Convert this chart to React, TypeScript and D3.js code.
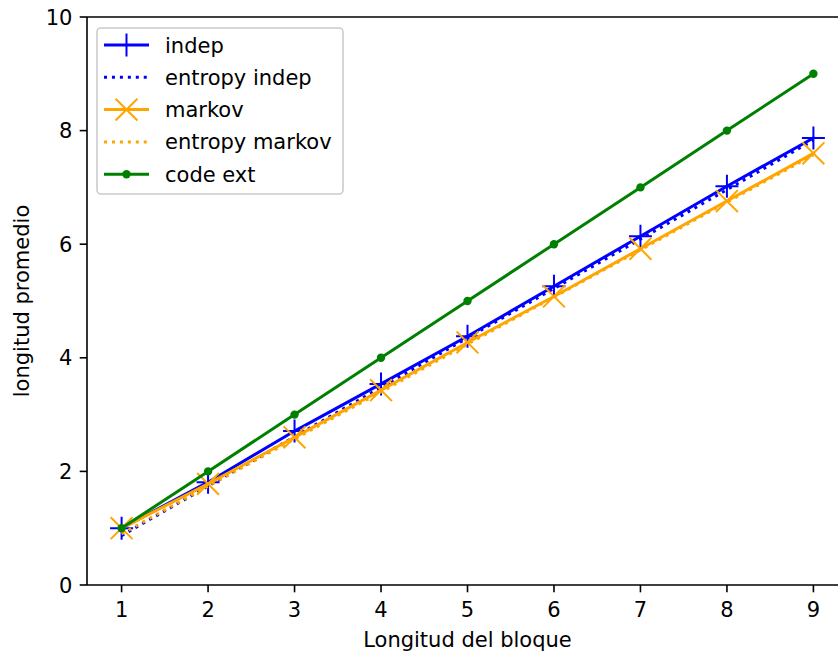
import React from "react";
import * as d3 from "d3";

const blockLengths = [1, 2, 3, 4, 5, 6, 7, 8, 9];
const indep = [1.0, 1.81, 2.71, 3.54, 4.38, 5.26, 6.14, 7.02, 7.87];
const entropyIndep = [0.87, 1.74, 2.61, 3.48, 4.35, 5.22, 6.09, 6.96, 7.83];
const markov = [1.0, 1.78, 2.6, 3.43, 4.27, 5.08, 5.92, 6.76, 7.6];
const entropyMarkov = [0.9, 1.74, 2.57, 3.4, 4.24, 5.07, 5.9, 6.74, 7.57];
const codeExt = [1, 2, 3, 4, 5, 6, 7, 8, 9];
const xTicks = [1, 2, 3, 4, 5, 6, 7, 8, 9];
const yTicks = [0, 2, 4, 6, 8, 10];

const W = 838;
const H = 654;
const left = 87;
const right = 848;
const top = 17;
const bottom = 585;
const FS = 21;
const LW = 3.0;
const FONT = "DejaVu Sans, sans-serif";

type Series = {
  name: string;
  values: number[];
  color: string;
  dotted: boolean;
  marker: "plus" | "x" | "dot" | null;
};

const series: Series[] = [
  { name: "indep", values: indep, color: "#0000ff", dotted: false, marker: "plus" },
  { name: "entropy indep", values: entropyIndep, color: "#0000ff", dotted: true, marker: null },
  { name: "markov", values: markov, color: "#ffa500", dotted: false, marker: "x" },
  { name: "entropy markov", values: entropyMarkov, color: "#ffa500", dotted: true, marker: null },
  { name: "code ext", values: codeExt, color: "#008000", dotted: false, marker: "dot" },
];

function Marker({ kind, x, y, color }: { kind: string | null; x: number; y: number; color: string }) {
  const s = 11.5;
  if (kind === "plus") {
    return (
      <path d={`M${x - s},${y}H${x + s}M${x},${y - s}V${y + s}`} stroke={color} strokeWidth={2.0} fill="none" />
    );
  }
  if (kind === "x") {
    const d = s * 0.95;
    return (
      <path
        d={`M${x - d},${y - d}L${x + d},${y + d}M${x - d},${y + d}L${x + d},${y - d}`}
        stroke={color}
        strokeWidth={2.0}
        fill="none"
      />
    );
  }
  if (kind === "dot") {
    return <circle cx={x} cy={y} r={4.2} fill={color} />;
  }
  return null;
}

export default function App() {
  const x = d3.scaleLinear().domain([0.6, 9.4]).range([left, right]);
  const y = d3.scaleLinear().domain([0, 10]).range([bottom, top]);
  const line = d3
    .line<[number, number]>()
    .x((d) => x(d[0]))
    .y((d) => y(d[1]));

  const legX = 97;
  const legY = 28;
  const legW = 246;
  const legH = 166;
  const rowY = (i: number) => 45 + i * 32.3;

  return (
    <svg width={W} height={H} style={{ position: "absolute", left: 0, top: 0, background: "#fff" }}>
      <rect width={W} height={H} fill="#fff" />
      <defs>
        <clipPath id="clip">
          <rect x={left} y={top} width={right - left} height={bottom - top} />
        </clipPath>
      </defs>
      <g clipPath="url(#clip)">
        {series.map((s) => (
          <g key={s.name}>
            <path
              d={line(blockLengths.map((b, i) => [b, s.values[i]] as [number, number])) || ""}
              stroke={s.color}
              strokeWidth={LW}
              fill="none"
              strokeDasharray={s.dotted ? `${LW * 1},${LW * 1.65}` : undefined}
              strokeLinejoin="round"
              strokeLinecap={s.dotted ? "butt" : "square"}
            />
            {blockLengths.map((b, i) => (
              <Marker key={i} kind={s.marker} x={x(b)} y={y(s.values[i])} color={s.color} />
            ))}
          </g>
        ))}
      </g>
      {/* spines */}
      <g stroke="#000" strokeWidth={1.6} fill="none">
        <line x1={left} y1={top} x2={left} y2={bottom} />
        <line x1={left} y1={bottom} x2={right} y2={bottom} />
        <line x1={left} y1={top} x2={right} y2={top} />
        <line x1={right} y1={top} x2={right} y2={bottom} />
      </g>
      {/* x ticks */}
      {xTicks.map((t) => (
        <g key={t}>
          <line x1={x(t)} x2={x(t)} y1={bottom} y2={bottom + 7.3} stroke="#000" strokeWidth={1.6} />
          <text x={x(t)} y={617} textAnchor="middle" fontFamily={FONT} fontSize={FS} fill="#000">
            {t}
          </text>
        </g>
      ))}
      {/* y ticks */}
      {yTicks.map((t) => (
        <g key={t}>
          <line x1={left - 7.3} x2={left} y1={y(t)} y2={y(t)} stroke="#000" strokeWidth={1.6} />
          <text x={left - 14.6} y={y(t) + 7.6} textAnchor="end" fontFamily={FONT} fontSize={FS} fill="#000">
            {t}
          </text>
        </g>
      ))}
      <text x={(left + right) / 2} y={647} textAnchor="middle" fontFamily={FONT} fontSize={FS} fill="#000">
        Longitud del bloque
      </text>
      <text
        transform={`translate(28.5, ${(top + bottom) / 2}) rotate(-90)`}
        textAnchor="middle"
        fontFamily={FONT}
        fontSize={FS}
        fill="#000"
      >
        longitud promedio
      </text>
      {/* legend */}
      <rect
        x={legX}
        y={legY}
        width={legW}
        height={legH}
        rx={4}
        fill="#fff"
        fillOpacity={0.8}
        stroke="#cccccc"
        strokeWidth={1.6}
      />
      {series.map((s, i) => {
        const cy = rowY(i);
        return (
          <g key={s.name}>
            <line
              x1={104}
              x2={149}
              y1={cy}
              y2={cy}
              stroke={s.color}
              strokeWidth={LW}
              strokeDasharray={s.dotted ? `${LW * 1},${LW * 1.65}` : undefined}
            />
            <Marker kind={s.marker} x={126.5} y={cy} color={s.color} />
            <text x={165} y={cy + 7.5} fontFamily={FONT} fontSize={FS} fill="#000">
              {s.name}
            </text>
          </g>
        );
      })}
    </svg>
  );
}
